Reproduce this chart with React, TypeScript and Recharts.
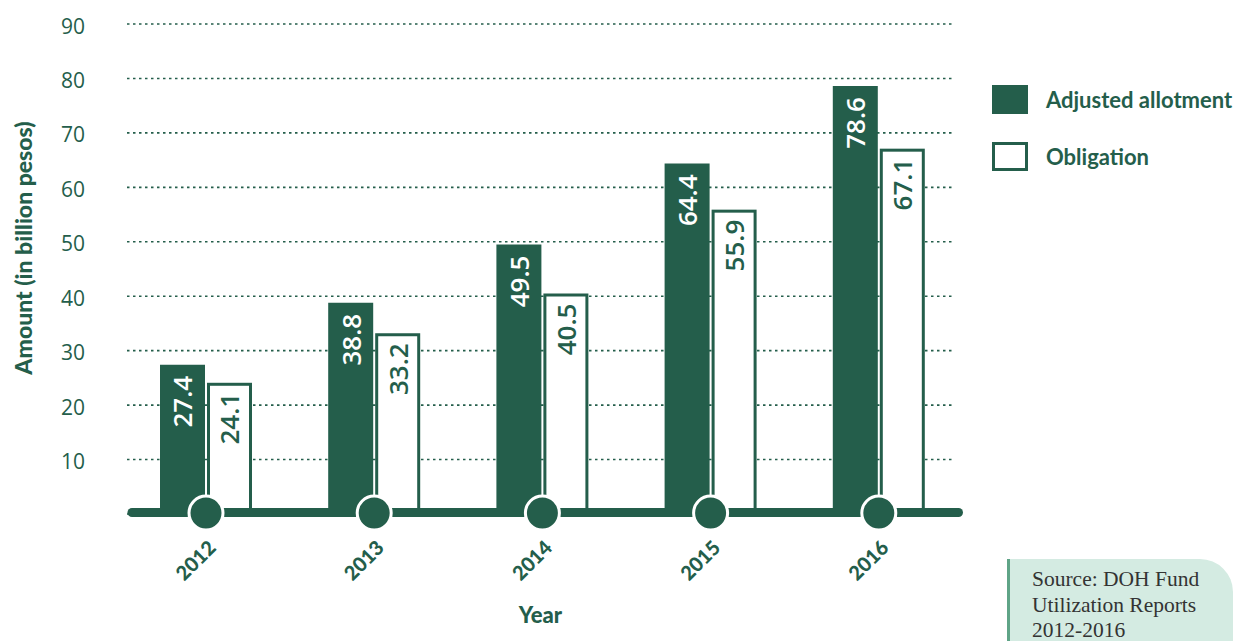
import React from 'react';
import { BarChart, Bar, XAxis, YAxis, CartesianGrid, LabelList, ReferenceLine, Legend } from 'recharts';

const years = ['2012', '2013', '2014', '2015', '2016'];
const adjustedAllotment = [27.4, 38.8, 49.5, 64.4, 78.6];
const obligation = [24.1, 33.2, 40.5, 55.9, 67.1];
const yTicks = [10, 20, 30, 40, 50, 60, 70, 80, 90];
const seriesNames = ['Adjusted allotment', 'Obligation'];
const yAxisTitle = 'Amount (in billion pesos)';
const xAxisTitle = 'Year';
const sourceLines = ['Source: DOH Fund', 'Utilization Reports', '2012-2016'];

const GREEN = '#245e4b';
const BOLD_FONT = 'Lato, "Open Sans", sans-serif';
const NUM_FONT = '"Open Sans", Lato, sans-serif';

const data = years.map((year, i) => ({
  year,
  allotment: adjustedAllotment[i],
  obligation: obligation[i],
}));

const HollowBar = (props: any) => {
  const { x, y, width, height } = props;
  if (width == null || height == null) return null;
  return (
    <rect
      x={x + 1.5}
      y={y + 1.5}
      width={Math.max(0, width - 3)}
      height={Math.max(0, height - 6)}
      fill="#ffffff"
      stroke={GREEN}
      strokeWidth={3}
    />
  );
};

const renderInsideLabel = (color: string, gap: number) => (props: any) => {
  const { x, y, width, value } = props;
  if (x == null || value == null) return null;
  const cx = x + width / 2;
  const ty = y + gap;
  return (
    <text
      x={cx}
      y={ty}
      transform={`rotate(-90 ${cx} ${ty})`}
      textAnchor="end"
      dominantBaseline="central"
      fill={color}
      fontSize={26}
      fontWeight={600}
      fontFamily={NUM_FONT}
    >
      {Number(value).toFixed(1)}
    </text>
  );
};

const renderYearMarker = (props: any) => {
  const { x, y, height } = props;
  if (x == null) return null;
  return <circle cx={x - 1} cy={y + height - 1} r={17} fill={GREEN} stroke="#ffffff" strokeWidth={3} />;
};

const XTick = (props: any) => {
  const { x, y, payload } = props;
  const tx = x + 11;
  const ty = y + 35;
  return (
    <text
      x={tx}
      y={ty}
      transform={`rotate(-45 ${tx} ${ty})`}
      textAnchor="end"
      fill={GREEN}
      fontSize={20}
      fontWeight={900}
      fontFamily={BOLD_FONT}
    >
      {payload.value}
    </text>
  );
};

const YTick = (props: any) => {
  const { x, y, payload } = props;
  return (
    <text
      x={x}
      y={y + 1.5}
      textAnchor="end"
      dominantBaseline="central"
      fill={GREEN}
      fontSize={21}
      fontFamily={NUM_FONT}
    >
      {payload.value}
    </text>
  );
};

const renderYTitle = (props: any) => {
  const vb = props.viewBox || { x: 0, y: 24, width: 122, height: 490 };
  const cx = vb.x + 23;
  const cy = vb.y + vb.height / 2 - 21;
  return (
    <text
      x={cx}
      y={cy}
      transform={`rotate(-90 ${cx} ${cy})`}
      textAnchor="middle"
      dominantBaseline="central"
      fill={GREEN}
      fontSize={23}
      fontWeight={900}
      fontFamily={BOLD_FONT}
    >
      {yAxisTitle}
    </text>
  );
};

const renderXTitle = (props: any) => {
  const vb = props.viewBox || { x: 122, y: 514, width: 841, height: 60 };
  return (
    <text
      x={vb.x + vb.width / 2 - 2}
      y={vb.y + 109}
      textAnchor="middle"
      fill={GREEN}
      fontSize={22}
      fontWeight={900}
      fontFamily={BOLD_FONT}
    >
      {xAxisTitle}
    </text>
  );
};

const GridLine = (props: any) => {
  const { x1, x2, y1, y2, key } = props;
  return (
    <line
      key={key}
      x1={x1 + 5}
      x2={x2 - 8}
      y1={y1}
      y2={y2}
      stroke={GREEN}
      strokeWidth={1.6}
      strokeDasharray="2.5 3.5"
    />
  );
};

const BaseLine = (props: any) => {
  const { x1, x2, y1 } = props;
  if (x1 == null) return null;
  return (
    <line
      x1={x1 + 10}
      x2={x2 - 4.5}
      y1={y1 - 1.5}
      y2={y1 - 1.5}
      stroke={GREEN}
      strokeWidth={9}
      strokeLinecap="round"
    />
  );
};

const renderLegend = () => (
  <div style={{ fontFamily: BOLD_FONT, fontWeight: 700, fontSize: 22, color: GREEN }}>
    {seriesNames.map((name, i) => (
      <div key={name} style={{ display: 'flex', alignItems: 'center', height: 29, marginBottom: 28 }}>
        <div
          style={{
            width: 36,
            height: 29,
            boxSizing: 'border-box',
            background: i === 0 ? GREEN : '#ffffff',
            border: i === 0 ? 'none' : `3px solid ${GREEN}`,
            marginRight: 18,
            flexShrink: 0,
          }}
        />
        <span style={{ whiteSpace: 'nowrap', lineHeight: '29px' }}>{name}</span>
      </div>
    ))}
  </div>
);

export default function App() {
  return (
    <div style={{ position: 'absolute', left: 0, top: 0, width: 1238, height: 641, overflow: 'hidden', background: '#ffffff' }}>
      <BarChart
        width={1238}
        height={641}
        data={data}
        margin={{ top: 24, right: 275, left: 0, bottom: 67 }}
        barGap={2}
        barSize={45}
      >
        <CartesianGrid vertical={false} horizontal={GridLine} />
        <XAxis
          dataKey="year"
          height={60}
          axisLine={false}
          tickLine={false}
          tickSize={0}
          tickMargin={0}
          interval={0}
          tick={XTick}
          label={{ content: renderXTitle }}
        />
        <YAxis
          width={122}
          domain={[0, 90]}
          ticks={yTicks}
          axisLine={false}
          tickLine={false}
          tickSize={0}
          tickMargin={37}
          tick={YTick}
          label={{ content: renderYTitle }}
        />
        <Legend
          layout="vertical"
          align="center"
          verticalAlign="middle"
          wrapperStyle={{ left: 992, top: 85, width: 246 }}
          content={renderLegend}
        />
        <ReferenceLine y={0} shape={BaseLine} />
        <Bar dataKey="allotment" name={seriesNames[0]} fill={GREEN} isAnimationActive={false}>
          <LabelList dataKey="allotment" content={renderInsideLabel('#ffffff', 11)} />
        </Bar>
        <Bar dataKey="obligation" name={seriesNames[1]} fill="#ffffff" stroke={GREEN} shape={HollowBar} isAnimationActive={false}>
          <LabelList dataKey="obligation" content={renderInsideLabel(GREEN, 10)} />
          <LabelList dataKey="year" content={renderYearMarker} />
        </Bar>
      </BarChart>
      <div
        style={{
          position: 'absolute',
          left: 1007,
          top: 559,
          width: 226,
          height: 82,
          boxSizing: 'border-box',
          background: '#d4ebe2',
          borderLeft: '3px solid #5fa487',
          borderTopRightRadius: 33,
          paddingLeft: 22,
          paddingTop: 8,
          fontFamily: '"Liberation Serif", "DejaVu Serif", serif',
          fontSize: 21.5,
          lineHeight: '25.5px',
          color: '#333333',
          whiteSpace: 'pre',
        }}
      >
        {sourceLines.map((l) => (
          <div key={l}>{l}</div>
        ))}
      </div>
    </div>
  );
}
